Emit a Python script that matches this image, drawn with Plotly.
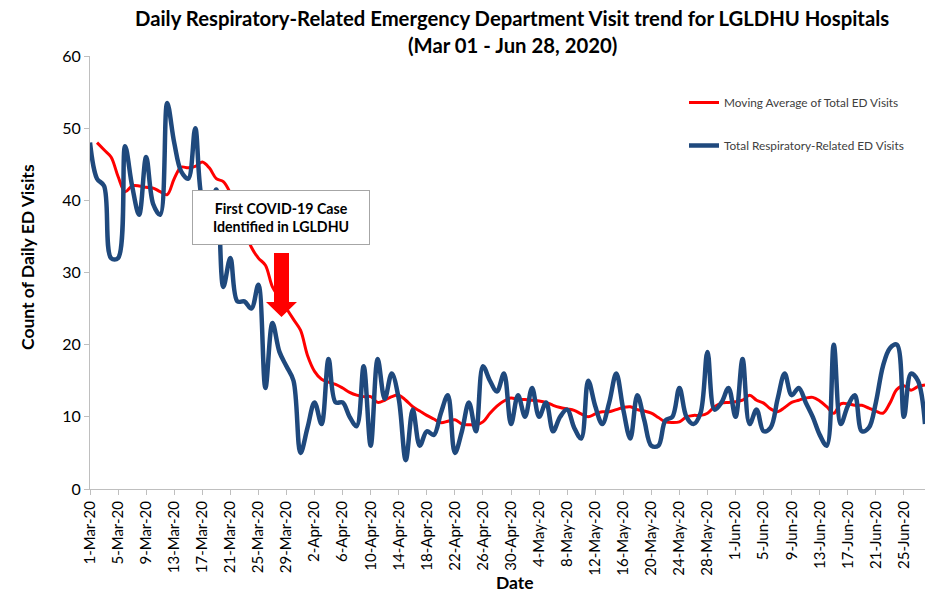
import pandas as pd
import plotly.graph_objects as go

# ---------------- data ----------------
dates = pd.date_range("2020-03-01", "2020-06-28", freq="D")

total_visits = [
    48, 43, 42, 32, 32, 47.5, 42, 38, 46, 39.5,
    38, 53.5, 48, 44, 43, 50, 40, 38.5, 41.5, 28,
    32, 26, 26, 25, 28.3, 14, 23, 19, 17, 15,
    5, 8.5, 12, 9, 18, 12, 12, 10, 8.7, 17,
    6, 18, 12.5, 16, 12.5, 4, 11, 6, 8, 7.5,
    10.5, 13, 5, 8, 12, 8, 17, 15, 13.5, 16,
    9, 13, 10, 14, 10, 12, 8, 10, 11, 8.5,
    7, 15, 11.5, 9, 12, 16, 11, 7, 13, 9.5,
    6, 6, 9.5, 10, 14, 10, 9, 10.5, 19, 11,
    12, 14, 10, 18, 9, 11, 8, 8.5, 12.5, 16,
    13, 14, 12, 10, 7.5, 6, 20, 9, 11.5, 13,
    8, 8.5, 12, 17, 19.5, 20, 10, 16, 15, 9,
]

moving_avg = [
    None, 48, 47, 46, 43.3, 41.2, 42, 42, 41.8, 41.7,
    41.2, 40.8, 43, 44.6, 44.5, 44.7, 45.3, 44.5, 43, 42.6,
    41, 38.5, 36, 33.5, 32, 31, 28, 26.5, 25, 23.5,
    22, 18.5, 16.3, 15.2, 14.8, 14.5, 14, 13.4, 13, 12.8,
    12.8, 12, 12.3, 12.8, 13, 12.3, 11.4, 10.8, 10.2, 9.7,
    9.2, 9.4, 9.6, 9, 8.9, 8.9, 9.3, 10.5, 11.5, 12.2,
    12.6, 12.4, 12.4, 12.3, 12.2, 12, 11.6, 11.3, 11.1, 10.9,
    10.4, 10, 10.4, 10.7, 10.7, 11, 11.3, 11.4, 11, 10.8,
    10.5, 9.9, 9.3, 9.2, 9.3, 10, 10.2, 10.2, 10.5, 11.4,
    11.9, 12, 12.1, 12.3, 13, 12.3, 11.9, 11.1, 10.7, 11.3,
    12, 12.3, 12.6, 12.7, 12.2, 11.4, 10.5, 11.8, 11.8, 11.6,
    11.6, 11.2, 10.8, 10.5, 11.9, 13.8, 14.3, 13.7, 14.2, 14.4,
]

title_lines = [
    "Daily Respiratory-Related Emergency Department Visit trend for LGLDHU Hospitals",
    "(Mar 01 - Jun 28, 2020)",
]
callout_text = "First COVID-19 Case<br>Identified in LGLDHU"

# ---------------- layout geometry ----------------
W, H = 934, 594
L, R, T, B = 90, 9, 56, 105
PW, PH = W - L - R, H - T - B
FONT = "Lato"


def px(x):
    return (x - L) / PW


def py(y):
    return (H - B - y) / PH


fig = go.Figure()

fig.add_trace(go.Scatter(
    x=dates, y=moving_avg, mode="lines", name="Moving Average of Total ED Visits",
    line=dict(color="#ff0000", width=3, shape="spline", smoothing=1.0),
    legendgroup="a", connectgaps=False,
))
fig.add_trace(go.Scatter(
    x=dates, y=total_visits, mode="lines", name="Total Respiratory-Related ED Visits",
    line=dict(color="#1f497d", width=4.5, shape="spline", smoothing=1.0),
    legendgroup="b",
))

fig.update_layout(
    width=W, height=H,
    margin=dict(l=L, r=R, t=T, b=B),
    paper_bgcolor="white", plot_bgcolor="white",
    font=dict(family=FONT, color="#000000"),
    showlegend=True,
    legend=dict(
        x=px(684), y=py(88), xanchor="left", yanchor="top",
        font=dict(size=11.8, color="#404040", family=FONT),
        tracegroupgap=24, bgcolor="rgba(0,0,0,0)",
        traceorder="grouped",
    ),
)

fig.update_xaxes(
    type="date",
    range=[dates[0], dates[-1]],
    tick0=dates[0], dtick=4 * 86400000,
    tickformat="%-d-%b-%y", tickangle=-90,
    tickfont=dict(size=15, color="#000000"),
    ticks="outside", ticklen=5, tickcolor="#bfbfbf",
    showline=True, linecolor="#bfbfbf", linewidth=1,
    showgrid=False, zeroline=False, automargin=False,
)
fig.update_yaxes(
    range=[0, 60], dtick=10,
    tickfont=dict(size=16, color="#000000"),
    ticks="outside", ticklen=5, tickcolor="#bfbfbf",
    showline=True, linecolor="#bfbfbf", linewidth=1,
    showgrid=False, zeroline=False, automargin=False,
)

# titles
fig.add_annotation(text="<b>%s</b>" % title_lines[0], xref="paper", yref="paper",
                   x=px(512), y=py(18), xanchor="center", yanchor="middle",
                   showarrow=False, font=dict(size=20.3, family=FONT))
fig.add_annotation(text="<b>%s</b>" % title_lines[1], xref="paper", yref="paper",
                   x=px(512), y=py(45), xanchor="center", yanchor="middle",
                   showarrow=False, font=dict(size=20.3, family=FONT))
fig.add_annotation(text="<b>Count of Daily ED Visits</b>", xref="paper", yref="paper",
                   x=px(27), y=py(257), xanchor="center", yanchor="middle",
                   showarrow=False, textangle=-90, font=dict(size=17.5, family=FONT))
fig.add_annotation(text="<b>Date</b>", xref="paper", yref="paper",
                   x=px(515), y=py(582), xanchor="center", yanchor="middle",
                   showarrow=False, font=dict(size=17.5, family=FONT))

# call-out arrow
ax = [274, 289, 289, 297, 281.5, 266, 274]
ay = [253, 253, 302, 302, 317, 302, 302]
path = "M " + " L ".join("%f,%f" % (px(a), py(b)) for a, b in zip(ax, ay)) + " Z"
fig.add_shape(type="path", path=path, xref="paper", yref="paper",
              fillcolor="#ff0000", line=dict(color="#ff0000", width=0), layer="above")

# call-out box
fig.add_annotation(text="<b>%s</b>" % callout_text, xref="paper", yref="paper",
                   x=px(281), y=py(217.5), xanchor="center", yanchor="middle",
                   showarrow=False,
                   width=174, height=51, borderpad=1, borderwidth=1,
                   bordercolor="#a6a6a6", bgcolor="white", align="center",
                   font=dict(size=14.2, family=FONT, color="#000000"))

fig.write_html("out.html", config={"displayModeBar": False},
               post_script="document.body.style.margin='0';")
